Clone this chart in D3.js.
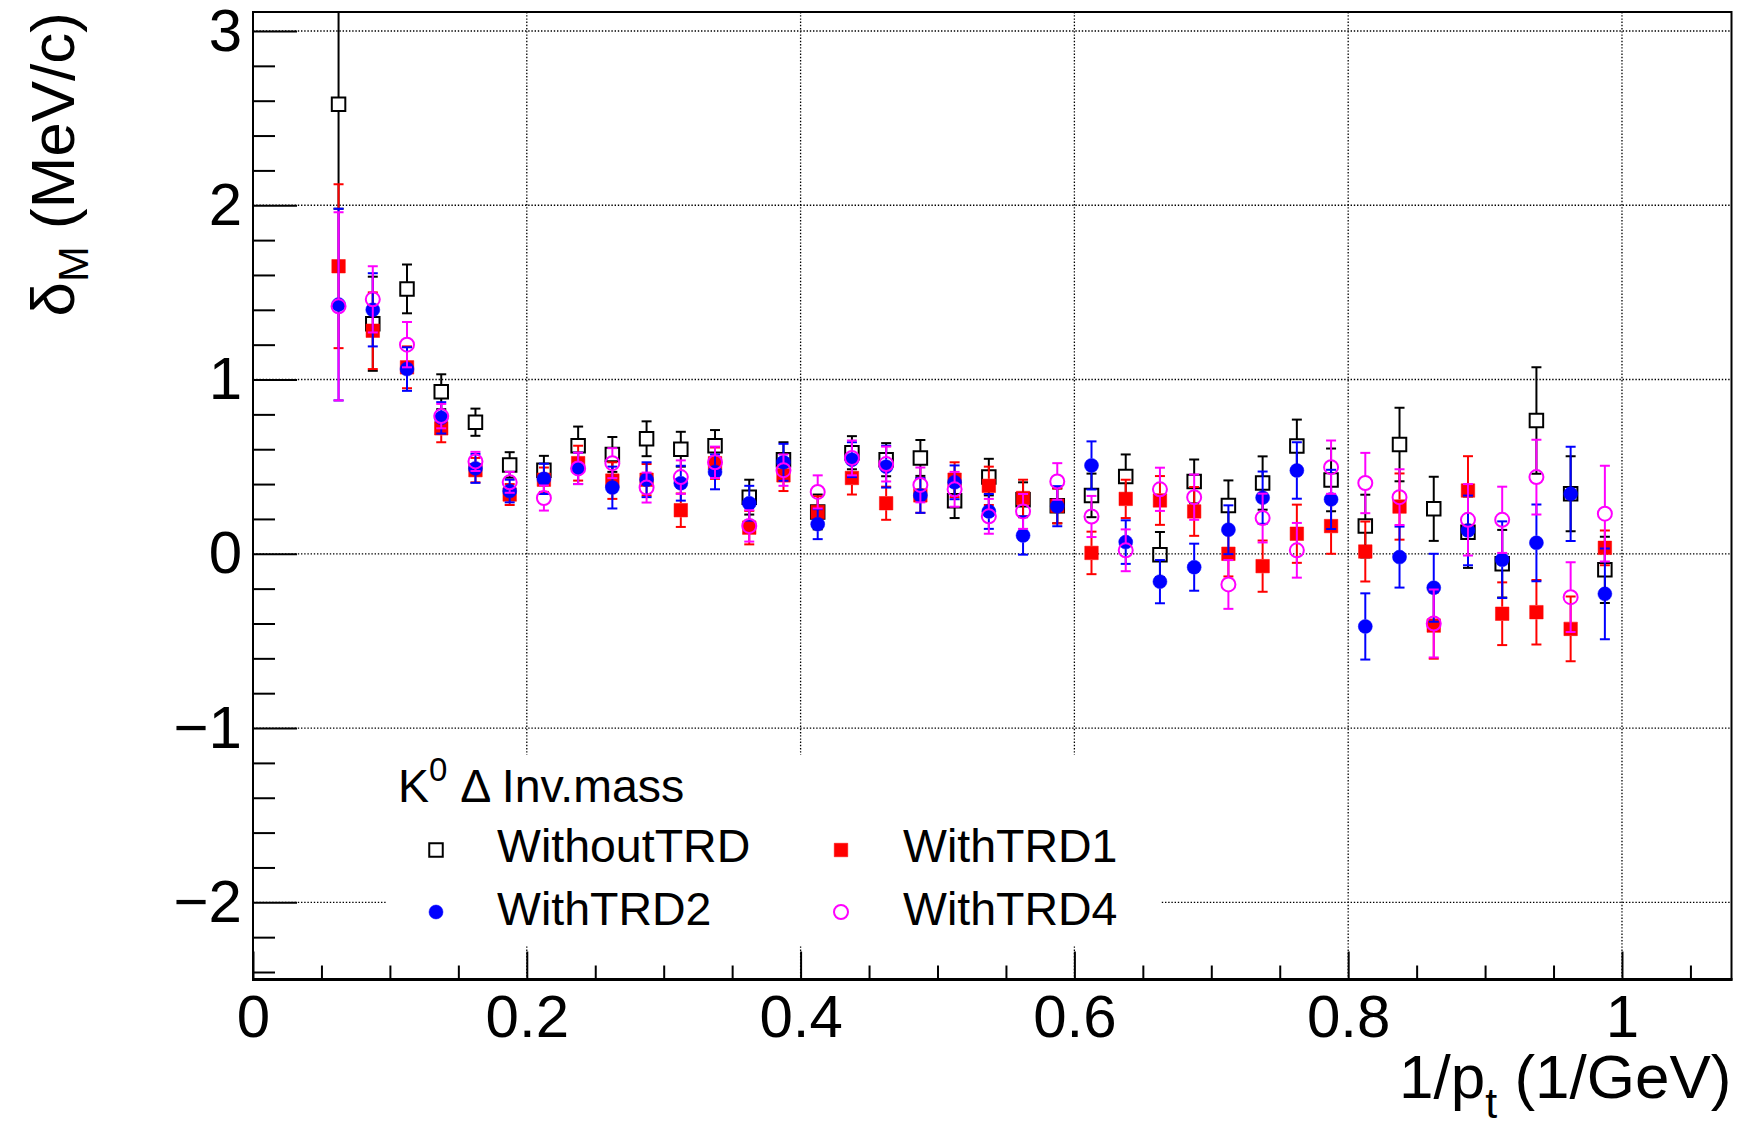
<!DOCTYPE html>
<html>
<head>
<meta charset="utf-8">
<script src="https://cdn.jsdelivr.net/npm/d3@7"></script>
<style>
body { margin: 0; background: #fff; }
svg text { font-family: "Liberation Sans", Arial, Helvetica, sans-serif; fill: #000; }
</style>
</head>
<body>
<div id="chart"></div>
<script>
// 1/pt bin centres
var xValues = [0.0625, 0.0875, 0.1125, 0.1375, 0.1625, 0.1875, 0.2125, 0.2375, 0.2625, 0.2875,
    0.3125, 0.3375, 0.3625, 0.3875, 0.4125, 0.4375, 0.4625, 0.4875, 0.5125, 0.5375,
    0.5625, 0.5875, 0.6125, 0.6375, 0.6625, 0.6875, 0.7125, 0.7375, 0.7625, 0.7875,
    0.8125, 0.8375, 0.8625, 0.8875, 0.9125, 0.9375, 0.9625, 0.9875];

var withoutTRD = [2.58, 1.32, 1.52, 0.93, 0.755, 0.51, 0.48, 0.62, 0.57, 0.66,
    0.60, 0.62, 0.325, 0.54, 0.24, 0.58, 0.54, 0.55, 0.305, 0.44,
    0.31, 0.275, 0.335, 0.444, -0.005, 0.415, 0.277, 0.406, 0.618, 0.424,
    0.159, 0.627, 0.258, 0.124, -0.057, 0.765, 0.344, -0.092];
var withoutTRDErr = [0.60, 0.27, 0.14, 0.10, 0.078, 0.073, 0.082, 0.11, 0.10, 0.10,
    0.10, 0.09, 0.10, 0.10, 0.10, 0.095, 0.095, 0.103, 0.10, 0.105,
    0.10, 0.10, 0.125, 0.126, 0.13, 0.126, 0.144, 0.153, 0.152, 0.18,
    0.18, 0.211, 0.184, 0.205, 0.194, 0.306, 0.215, 0.19];

var withTRD1 = [1.65, 1.28, 1.07, 0.72, 0.48, 0.34, 0.425, 0.52, 0.42, 0.425,
    0.25, 0.52, 0.15, 0.45, 0.24, 0.435, 0.29, 0.335, 0.425, 0.39,
    0.32, 0.275, 0.005, 0.315, 0.306, 0.243, 0.0, -0.071, 0.115, 0.159,
    0.013, 0.271, -0.412, 0.363, -0.344, -0.335, -0.431, 0.034];
var withTRD1Err = [0.47, 0.22, 0.12, 0.08, 0.07, 0.06, 0.07, 0.10, 0.105, 0.09,
    0.096, 0.09, 0.096, 0.09, 0.09, 0.095, 0.095, 0.10, 0.10, 0.11,
    0.105, 0.10, 0.122, 0.11, 0.14, 0.14, 0.13, 0.147, 0.167, 0.159,
    0.172, 0.19, 0.19, 0.197, 0.18, 0.185, 0.186, 0.10];

var withTRD2 = [1.43, 1.40, 1.06, 0.78, 0.49, 0.36, 0.43, 0.49, 0.38, 0.425,
    0.405, 0.47, 0.29, 0.525, 0.17, 0.54, 0.50, 0.335, 0.41, 0.243,
    0.105, 0.273, 0.507, 0.067, -0.16, -0.077, 0.138, 0.322, 0.478, 0.312,
    -0.417, -0.019, -0.195, 0.134, -0.034, 0.063, 0.344, -0.23];
var withTRD2Err = [0.55, 0.21, 0.125, 0.09, 0.083, 0.065, 0.087, 0.09, 0.12, 0.10,
    0.10, 0.10, 0.10, 0.106, 0.086, 0.10, 0.12, 0.10, 0.097, 0.10,
    0.11, 0.115, 0.138, 0.125, 0.124, 0.135, 0.14, 0.15, 0.162, 0.17,
    0.19, 0.175, 0.195, 0.20, 0.22, 0.22, 0.27, 0.26];

var withTRD4 = [1.42, 1.46, 1.20, 0.79, 0.53, 0.41, 0.32, 0.49, 0.52, 0.38,
    0.44, 0.525, 0.16, 0.48, 0.355, 0.55, 0.515, 0.395, 0.37, 0.215,
    0.243, 0.415, 0.214, 0.02, 0.37, 0.325, -0.176, 0.205, 0.02, 0.497,
    0.406, 0.325, -0.40, 0.195, 0.195, 0.44, -0.249, 0.23];
var withTRD4Err = [0.54, 0.19, 0.13, 0.07, 0.055, 0.06, 0.072, 0.09, 0.086, 0.086,
    0.096, 0.09, 0.09, 0.09, 0.095, 0.10, 0.10, 0.10, 0.10, 0.10,
    0.10, 0.105, 0.118, 0.12, 0.124, 0.13, 0.14, 0.14, 0.157, 0.153,
    0.173, 0.16, 0.195, 0.205, 0.19, 0.215, 0.20, 0.275];

var seriesNames = ["WithoutTRD", "WithTRD1", "WithTRD2", "WithTRD4"];
var xTicks = [0, 0.2, 0.4, 0.6, 0.8, 1];
var xTickLabels = ["0", "0.2", "0.4", "0.6", "0.8", "1"];
var yTicks = [-2, -1, 0, 1, 2, 3];
var yTickLabels = ["\u22122", "\u22121", "0", "1", "2", "3"];

var svgWidth = 1742, svgHeight = 1130;
var plotLeft = 253, plotRight = 1731.5, plotTop = 12, plotBottom = 979.5;

var svg = d3.select("#chart").append("svg")
    .attr("width", svgWidth)
    .attr("height", svgHeight);

var xScale = d3.scaleLinear().domain([0, 1.08]).range([plotLeft, plotRight]);
var yScale = d3.scaleLinear().domain([-2.443, 3.109]).range([plotBottom, plotTop]);

svg.append("defs").append("clipPath").attr("id", "frame")
    .append("rect")
    .attr("x", plotLeft).attr("y", plotTop)
    .attr("width", plotRight - plotLeft).attr("height", plotBottom - plotTop);

// dotted grid
var grid = svg.append("g");
grid.selectAll(".gx")
    .data(xTicks.filter(function(d) { return d > 0; }))
    .enter().append("line")
    .attr("x1", function(d) { return xScale(d); })
    .attr("x2", function(d) { return xScale(d); })
    .attr("y1", plotTop).attr("y2", plotBottom);
grid.selectAll(".gy")
    .data(yTicks)
    .enter().append("line")
    .attr("x1", plotLeft).attr("x2", plotRight)
    .attr("y1", function(d) { return yScale(d); })
    .attr("y2", function(d) { return yScale(d); });
grid.selectAll("line")
    .attr("stroke", "#000")
    .attr("stroke-width", 1.3)
    .attr("stroke-dasharray", "1.4,1.8");

var series = [
    {name: seriesNames[0], values: withoutTRD, errors: withoutTRDErr, color: "#000000", shape: d3.symbolSquare, open: true},
    {name: seriesNames[1], values: withTRD1, errors: withTRD1Err, color: "#ff0000", shape: d3.symbolSquare, open: false},
    {name: seriesNames[2], values: withTRD2, errors: withTRD2Err, color: "#0000ff", shape: d3.symbolCircle, open: false},
    {name: seriesNames[3], values: withTRD4, errors: withTRD4Err, color: "#ff00ff", shape: d3.symbolCircle, open: true}
];

function markerPath(s) {
    var size = s.shape === d3.symbolSquare ? 13.5 * 13.5 : Math.PI * 7 * 7;
    return d3.symbol().type(s.shape).size(size)();
}

function styleMarker(sel, s) {
    sel.attr("d", markerPath(s))
        .attr("fill", s.open ? "none" : s.color)
        .attr("stroke", s.color)
        .attr("stroke-width", s.open ? 2 : 0.5);
}

var plot = svg.append("g").attr("clip-path", "url(#frame)");
var half = 7, cap = 5;

series.forEach(function(s) {
    var pts = xValues.map(function(x, i) {
        return {x: x, y: s.values[i], e: s.errors[i]};
    });
    var g = plot.append("g");
    var bars = g.selectAll(".err").data(pts).enter().append("g")
        .attr("stroke", s.color)
        .attr("stroke-width", 2);
    // error bar, split around the marker
    bars.append("line")
        .attr("x1", function(d) { return xScale(d.x); })
        .attr("x2", function(d) { return xScale(d.x); })
        .attr("y1", function(d) { return yScale(d.y + d.e); })
        .attr("y2", function(d) { return Math.max(yScale(d.y) - half, yScale(d.y + d.e)); });
    bars.append("line")
        .attr("x1", function(d) { return xScale(d.x); })
        .attr("x2", function(d) { return xScale(d.x); })
        .attr("y1", function(d) { return Math.min(yScale(d.y) + half, yScale(d.y - d.e)); })
        .attr("y2", function(d) { return yScale(d.y - d.e); });
    bars.append("line")
        .attr("x1", function(d) { return xScale(d.x) - cap; })
        .attr("x2", function(d) { return xScale(d.x) + cap; })
        .attr("y1", function(d) { return yScale(d.y + d.e); })
        .attr("y2", function(d) { return yScale(d.y + d.e); });
    bars.append("line")
        .attr("x1", function(d) { return xScale(d.x) - cap; })
        .attr("x2", function(d) { return xScale(d.x) + cap; })
        .attr("y1", function(d) { return yScale(d.y - d.e); })
        .attr("y2", function(d) { return yScale(d.y - d.e); });

    g.selectAll(".mk").data(pts).enter().append("path")
        .attr("transform", function(d) {
            return "translate(" + xScale(d.x) + "," + yScale(d.y) + ")";
        })
        .call(styleMarker, s);
});

// axes
var yAxisMajor = d3.axisLeft(yScale).tickValues(yTicks)
    .tickSize(-44).tickPadding(11)
    .tickFormat(function(d, i) { return yTickLabels[i]; });
var yMinor = d3.range(-24, 31, 2).map(function(d) { return d / 10; })
    .filter(function(d) { return yTicks.indexOf(d) < 0; });
var yAxisMinor = d3.axisLeft(yScale).tickValues(yMinor).tickSize(-22).tickFormat("");

var xAxisMajor = d3.axisBottom(xScale).tickValues(xTicks)
    .tickSize(-28).tickPadding(15)
    .tickFormat(function(d, i) { return xTickLabels[i]; });
var xMinor = d3.range(1, 22).map(function(d) { return d * 0.05; })
    .filter(function(d) { return Math.abs(d / 0.2 - Math.round(d / 0.2)) > 1e-6; });
var xAxisMinor = d3.axisBottom(xScale).tickValues(xMinor).tickSize(-14).tickFormat("");

[svg.append("g").attr("transform", "translate(" + plotLeft + ",0)").call(yAxisMajor),
 svg.append("g").attr("transform", "translate(" + plotLeft + ",0)").call(yAxisMinor),
 svg.append("g").attr("transform", "translate(0," + plotBottom + ")").call(xAxisMajor),
 svg.append("g").attr("transform", "translate(0," + plotBottom + ")").call(xAxisMinor)]
.forEach(function(ax) {
    ax.select(".domain").remove();
    ax.selectAll(".tick line").attr("stroke", "#000").attr("stroke-width", 2);
    ax.selectAll(".tick text").attr("font-size", 60).attr("fill", "#000")
        .style("font-family", "'Liberation Sans', Arial, sans-serif");
});

// frame
svg.append("rect")
    .attr("x", plotLeft).attr("y", plotTop)
    .attr("width", plotRight - plotLeft).attr("height", plotBottom - plotTop)
    .attr("fill", "none").attr("stroke", "#000").attr("stroke-width", 2);
svg.append("line")
    .attr("x1", plotLeft - 1).attr("x2", plotRight + 1)
    .attr("y1", plotBottom).attr("y2", plotBottom)
    .attr("stroke", "#000").attr("stroke-width", 3);

// axis titles
var yTitle = svg.append("text")
    .attr("transform", "translate(74," + plotTop + ") rotate(-90)")
    .attr("text-anchor", "end")
    .attr("font-size", 62);
yTitle.append("tspan").text("\u03b4");
yTitle.append("tspan").attr("font-size", 43).attr("dy", 14).text("M");
yTitle.append("tspan").attr("dy", -14).text(" (MeV/c)");

var xTitle = svg.append("text")
    .attr("x", plotRight).attr("y", 1098)
    .attr("text-anchor", "end")
    .attr("font-size", 62);
xTitle.append("tspan").text("1/p");
xTitle.append("tspan").attr("font-size", 43).attr("dy", 20).text("t");
xTitle.append("tspan").attr("dy", -20).text(" (1/GeV)");

// legend
var legend = svg.append("g");
legend.append("rect")
    .attr("x", 387).attr("y", 755)
    .attr("width", 774).attr("height", 191)
    .attr("fill", "#fff");
var header = legend.append("text")
    .attr("x", 398).attr("y", 802)
    .attr("font-size", 46.5);
header.append("tspan").text("K");
header.append("tspan").attr("font-size", 33).attr("dy", -21).text("0");
header.append("tspan").attr("dy", 21).text(" \u0394 Inv.mass");

var legendPos = [
    {mx: 436, my: 850, tx: 497, ty: 862},
    {mx: 841, my: 850, tx: 903, ty: 862},
    {mx: 436, my: 912, tx: 497, ty: 925},
    {mx: 841, my: 912, tx: 903, ty: 925}
];
var entries = legend.selectAll(".entry")
    .data(series)
    .enter().append("g");
entries.append("path")
    .attr("transform", function(d, i) {
        return "translate(" + legendPos[i].mx + "," + legendPos[i].my + ")";
    })
    .each(function(d) { d3.select(this).call(styleMarker, d); });
entries.append("text")
    .attr("x", function(d, i) { return legendPos[i].tx; })
    .attr("y", function(d, i) { return legendPos[i].ty; })
    .attr("font-size", 46.5)
    .text(function(d) { return d.name; });
</script>
</body>
</html>
